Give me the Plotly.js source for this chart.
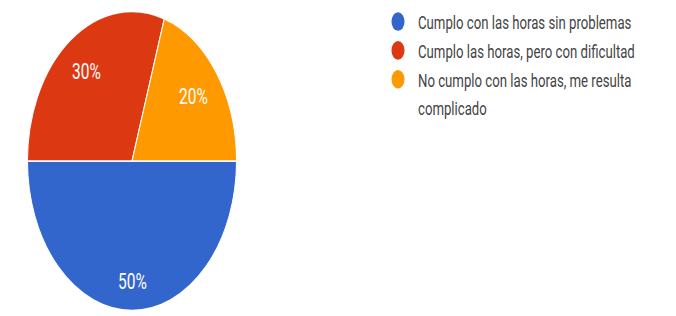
<!DOCTYPE html>
<html>
<head>
<meta charset="utf-8">
<script src="https://cdn.plot.ly/plotly-3.0.1.min.js"></script>
<style>
  html, body { margin: 0; padding: 0; background: #fff; overflow: hidden; }
  #wrap { width: 676px; height: 316px; overflow: hidden; }
  #chart { width: 676px; height: 221px; transform: scaleY(1.43); transform-origin: 0 0; }
</style>
</head>
<body>
<div id="wrap"><div id="chart"></div></div>
<script>
const categories = [
  "Cumplo con las horas sin problemas",
  "Cumplo las horas, pero con dificultad",
  "No cumplo con las horas, me resulta complicado"
];
// legend text lines (the last category wraps onto a second line)
const legendLines = [
  ["Cumplo con las horas sin problemas"],
  ["Cumplo las horas, pero con dificultad"],
  ["No cumplo con las horas, me resulta", "complicado"]
];
const values = [50, 30, 20];
const colors = ["#3366cc", "#dc3912", "#ff9900"];

const W = 676, H = 221;
const pieX = [26 / W, 238 / W];
const pieY = [0.018, 0.977];

const pie = {
  type: "pie",
  labels: categories,
  values: values,
  sort: false,
  direction: "clockwise",
  rotation: 90,
  marker: { colors: colors, line: { color: "#ffffff", width: 1 } },
  textinfo: "none",
  textposition: "none",
  showlegend: false,
  hoverinfo: "none",
  domain: { x: pieX, y: pieY }
};

// legend entries: one per line, continuation lines get an invisible marker
const legendTraces = [];
legendLines.forEach((lines, i) => {
  lines.forEach((t, j) => {
    legendTraces.push({
      type: "scatter",
      mode: "markers",
      x: [null], y: [null],
      name: t,
      legendgroup: "g" + i + "_" + j,
      marker: { color: j === 0 ? colors[i] : "rgba(0,0,0,0)", size: 13, symbol: "circle" },
      showlegend: true,
      hoverinfo: "none"
    });
  });
});

// percentage labels placed along each slice's bisector, from the data
const total = values.reduce((a, b) => a + b, 0);
const cx = (pieX[0] + pieX[1]) / 2 * W;
const cy = (1 - (pieY[0] + pieY[1]) / 2) * H;
const R = (pieX[1] - pieX[0]) * W / 2;
const fontSize = 15.5;
const annotations = [];
let cum = 0;
values.forEach((v, i) => {
  const frac = v / total;
  // angle measured clockwise from 12 o'clock; start at 3 o'clock (rotation 90)
  const mid = (90 + (cum + frac / 2) * 360) * Math.PI / 180;
  cum += frac;
  const label = Math.round(frac * 100) + "%";
  const hw = label.length * fontSize * 0.31;
  const hh = fontSize * 0.36;
  const s = Math.sin(mid), c = Math.cos(mid);
  const d = 0.86 * R - (hw * Math.abs(s) + hh * Math.abs(c));
  const px = cx + d * s;
  const py = cy - d * c;
  annotations.push({
    xref: "paper", yref: "paper",
    x: px / W, y: 1 - py / H,
    xanchor: "center", yanchor: "middle",
    text: label,
    showarrow: false,
    font: { color: "#ffffff", size: fontSize, family: "Roboto, Arial, sans-serif" }
  });
});

const layout = {
  width: W,
  height: H,
  margin: { l: 0, r: 0, t: 0, b: 0 },
  paper_bgcolor: "#ffffff",
  plot_bgcolor: "#ffffff",
  xaxis: { visible: false, domain: [0.9, 0.91] },
  yaxis: { visible: false, domain: [0.9, 0.91] },
  showlegend: true,
  annotations: annotations,
  legend: {
    x: 378 / W, xanchor: "left",
    y: 1.015, yanchor: "top",
    font: { family: "Roboto, Arial, sans-serif", size: 13.2, color: "#444444" },
    tracegroupgap: 0,
    itemclick: false, itemdoubleclick: false,
    bgcolor: "rgba(0,0,0,0)"
  }
};

Plotly.newPlot("chart", [pie].concat(legendTraces), layout, { displayModeBar: false, staticPlot: true });
</script>
</body>
</html>
